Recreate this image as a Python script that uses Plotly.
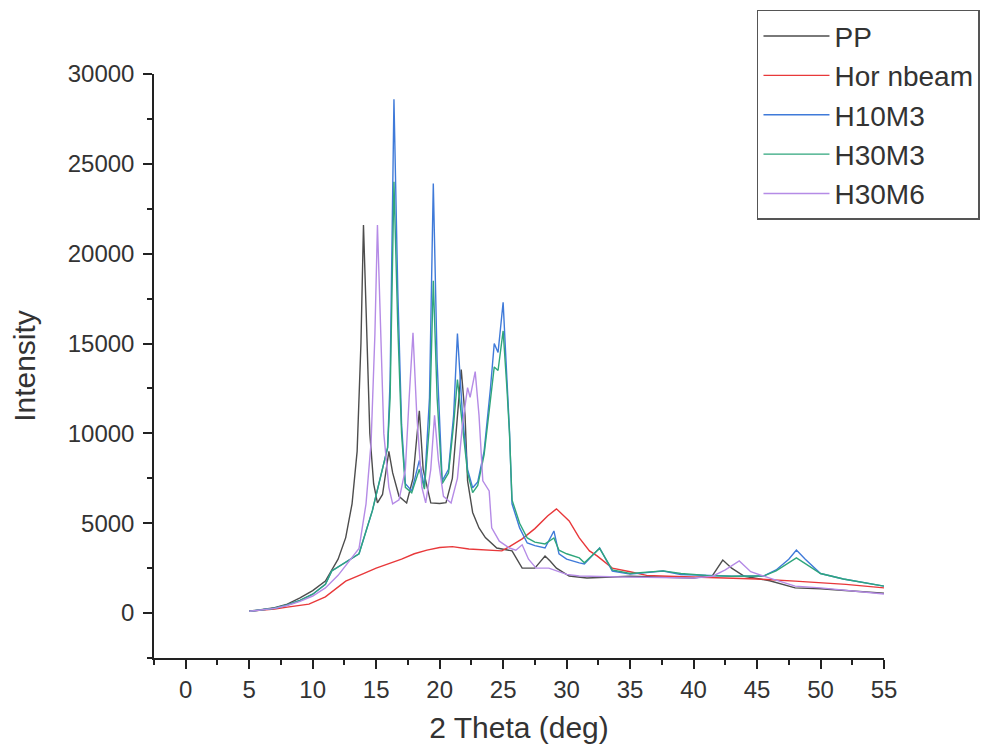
import plotly.graph_objects as go

# ---- data ----
pp_x = [5, 6, 7, 8, 9, 10, 11, 12, 12.6, 13.1, 13.5, 13.8, 14.0, 14.2, 14.5, 14.8, 15.1, 15.5,
        15.8, 16.0, 16.3, 16.8, 17.4, 17.9, 18.2, 18.4, 18.7, 19.3, 20.0, 20.5, 21.0, 21.4, 21.7,
        22.0, 22.2, 22.6, 23.1, 23.6, 24.5, 25.7, 26.5, 27.5, 28.0, 28.3, 28.7, 29.2, 30.2, 31.6,
        35, 38, 40, 41.5, 42.3, 43.0, 44, 46, 48, 50, 52, 55]
pp_y = [100, 180, 300, 500, 840, 1250, 1780, 3000, 4200, 6080, 9000, 15000, 21600, 17000, 10000,
        7200, 6130, 6600, 8000, 9000, 7800, 6500, 6130, 7500, 9800, 11260, 8000, 6130, 6100, 6150,
        7500, 11000, 13550, 11000, 7360, 5600, 4740, 4200, 3620, 3460, 2500, 2500, 2900, 3180, 2900,
        2500, 2060, 1950, 2050, 2000, 1950, 2100, 2950, 2500, 2050, 1800, 1400, 1350, 1250, 1100]

hor_x = [5, 6, 7, 8, 9, 9.7, 11, 12.6, 14, 15, 16, 17, 18, 19, 20, 21, 22.3, 23.5, 24.9, 25.5,
         26.5, 27.5, 28.5, 29.2, 30.2, 31, 31.8, 32.4, 33.6, 35, 36.3, 38, 40, 42, 45, 48, 50, 52, 55]
hor_y = [100, 150, 230, 330, 420, 500, 900, 1780, 2200, 2500, 2750, 3000, 3300, 3500, 3650, 3700,
         3570, 3500, 3460, 3700, 4130, 4700, 5400, 5800, 5130, 4180, 3460, 3180, 2500, 2300, 2100,
         2050, 2000, 1950, 1900, 1780, 1700, 1600, 1400]

h10_x = [5, 6, 7, 8, 9, 10, 11, 11.5, 12.5, 13.65, 14.7, 15.3, 15.9, 16.1, 16.4, 16.7, 17.0, 17.3,
         17.8, 18.4, 18.8, 19.2, 19.5, 19.8, 20.2, 20.7, 21.1, 21.4, 21.8, 22.2, 22.6, 23.0, 23.5,
         24.0, 24.3, 24.6, 25.0, 25.3, 25.5, 25.7, 26.3, 26.9, 27.5, 28.3, 29.0, 29.4, 30.0, 31.0,
         31.4, 32.6, 33.0, 33.6, 35, 36.5, 37.6, 39, 41, 43, 45.5, 46.5, 47.5, 48.1, 48.8, 50, 51.8,
         53, 55]
h10_y = [100, 170, 270, 450, 700, 1050, 1600, 2340, 2800, 3300, 5700, 7500, 9200, 13000, 28600,
         18000, 10500, 7200, 6800, 8500, 7000, 12000, 23900, 14000, 7360, 8000, 11000, 15560, 11000,
         8000, 6970, 7300, 9000, 12500, 15000, 14500, 17300, 13000, 10150, 6080, 4740, 3900, 3750,
         3620, 4570, 3300, 3000, 2790, 2730, 3630, 3100, 2340, 2170, 2250, 2340, 2150, 2100, 2050,
         2060, 2400, 3000, 3510, 3000, 2200, 1900, 1750, 1500]

h30m3_x = h10_x
h30m3_y = [100, 170, 270, 450, 700, 1050, 1600, 2340, 2800, 3300, 5700, 7500, 9200, 12000, 24000,
           16000, 10000, 7000, 6700, 8000, 6900, 10500, 18500, 12000, 7200, 7800, 10500, 13000,
           10500, 7800, 6700, 7100, 8800, 12000, 13700, 13500, 15700, 12500, 10000, 6300, 5000,
           4180, 3950, 3850, 4180, 3500, 3300, 3070, 2800, 3600, 3100, 2400, 2200, 2300, 2350,
           2200, 2100, 2050, 2060, 2350, 2800, 3070, 2750, 2200, 1900, 1750, 1500]

h30m6_x = [5, 6, 7, 8, 9, 10, 11, 12, 13, 13.65, 14.2, 14.6, 14.9, 15.1, 15.3, 15.6, 16.0, 16.3,
           16.8, 17.3, 17.6, 17.9, 18.2, 18.6, 18.9, 19.3, 19.6, 19.9, 20.3, 20.9, 21.4, 21.8, 22.2,
           22.4, 22.8, 23.1, 23.4, 23.9, 24.1, 24.7, 25.5, 26.0, 26.5, 27.0, 27.6, 28.6, 30, 31, 35,
           40, 41.5, 42.5, 43.6, 44.5, 46, 48, 50, 52, 55]
h30m6_y = [100, 170, 260, 420, 650, 950, 1400, 2100, 3000, 3600, 6080, 9500, 15500, 21600, 17000,
           10000, 7000, 6080, 6300, 8000, 12000, 15600, 11000, 7000, 6130, 8000, 11000, 8500, 6500,
           6130, 7500, 10500, 12550, 12000, 13440, 11000, 7360, 6800, 4740, 4000, 3620, 3500, 3800,
           3000, 2500, 2500, 2150, 2060, 2000, 1950, 2050, 2400, 2900, 2300, 1950, 1500, 1400, 1250,
           1060]

x_ticks = [0, 5, 10, 15, 20, 25, 30, 35, 40, 45, 50, 55]
y_ticks = [0, 5000, 10000, 15000, 20000, 25000, 30000]

series = [
    ("PP", pp_x, pp_y, "#4d4d4d"),
    ("Hor nbeam", hor_x, hor_y, "#e8383a"),
    ("H10M3", h10_x, h10_y, "#3f7ad9"),
    ("H30M3", h30m3_x, h30m3_y, "#2fa67c"),
    ("H30M6", h30m6_x, h30m6_y, "#b58be6"),
]

fig = go.Figure()
for name, xs, ys, col in series:
    fig.add_trace(go.Scatter(x=xs, y=ys, mode="lines", name=name,
                             line=dict(color=col, width=1.4)))

FONT = "Liberation Sans, Arial, sans-serif"
# the page body adds an 8px offset, so the figure is 8px smaller and margins compensate
fig.update_layout(
    width=988, height=745,
    margin=dict(l=146, r=112, t=66, b=95, autoexpand=False),
    paper_bgcolor="white", plot_bgcolor="white",
    font=dict(family=FONT, color="#333333"),
    showlegend=True,
    legend=dict(x=0.826, y=1.11, xanchor="left", yanchor="top",
                bordercolor="#555555", borderwidth=1.5, bgcolor="white",
                font=dict(size=28, family=FONT, color="#333333"),
                itemwidth=66, tracegroupgap=0),
)
fig.update_xaxes(
    range=[-2.5, 55], tickmode="array", tickvals=x_ticks, ticktext=[str(v) for v in x_ticks],
    showgrid=False, zeroline=False, showline=True, linecolor="#222222", linewidth=1.5,
    ticks="outside", ticklen=9, tickwidth=1.5, tickcolor="#222222",
    minor=dict(dtick=2.5, tick0=0, ticks="outside", ticklen=5, tickwidth=1.5, tickcolor="#222222"),
    tickfont=dict(size=24, family=FONT, color="#333333"),
    title=dict(text="2 Theta (deg)", font=dict(size=30, family=FONT, color="#333333"), standoff=15),
)
fig.update_yaxes(
    range=[-2500, 30000], tickmode="array", tickvals=y_ticks, ticktext=[str(v) for v in y_ticks],
    showgrid=False, zeroline=False, showline=True, linecolor="#222222", linewidth=1.5,
    ticks="outside", ticklen=9, tickwidth=1.5, tickcolor="#222222", ticklabelstandoff=4,
    minor=dict(dtick=2500, tick0=0, ticks="outside", ticklen=5, tickwidth=1.5, tickcolor="#222222"),
    tickfont=dict(size=24, family=FONT, color="#333333"),
    title=dict(text="Intensity", font=dict(size=30, family=FONT, color="#333333"), standoff=28),
)

fig.write_html("out.html")
